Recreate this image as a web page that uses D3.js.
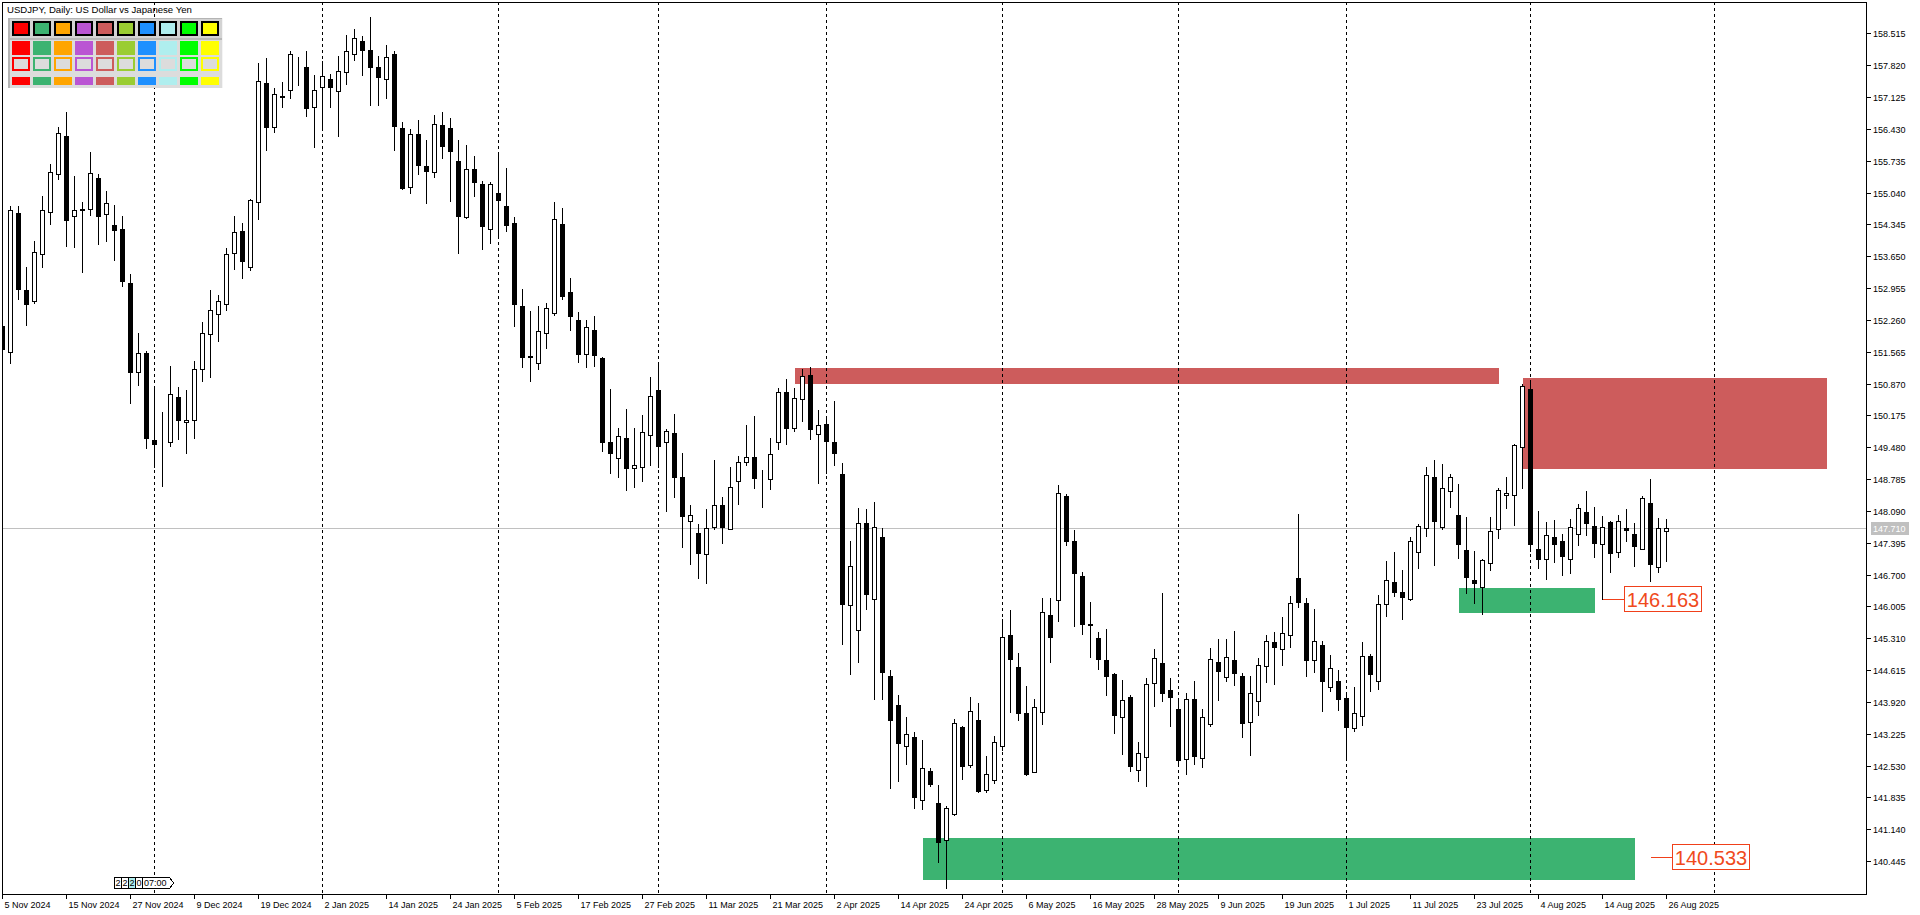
<!DOCTYPE html>
<html>
<head>
<meta charset="utf-8">
<script src="https://cdn.jsdelivr.net/npm/d3@7/dist/d3.min.js"></script>
<style>
  html, body { margin: 0; padding: 0; background: #fff; overflow: hidden; }
  svg { display: block; }
  text { font-family: "Liberation Sans", Arial, sans-serif; }
</style>
</head>
<body>
<div id="chart"></div>
<script>
// ---------------- data (daily candles, 5 Nov 2024 .. 26 Aug 2025) ----------------
const open = [152.127,151.553,154.594,152.913,152.673,153.706,154.623,155.452,156.276,154.522,
  154.688,154.675,155.359,154.566,154.332,154.245,153.066,151.116,151.544,149.631,
  149.573,149.588,150.570,150.024,150.068,151.182,151.946,152.383,152.601,153.714,
  154.201,153.422,154.828,157.433,156.466,157.121,157.273,157.907,157.782,156.902,
  157.339,157.520,157.252,157.666,158.059,158.343,158.153,157.782,157.514,158.066,
  156.444,155.155,156.319,155.621,155.496,156.516,156.450,155.730,154.500,155.548,
  155.228,154.252,155.031,154.741,154.369,152.564,151.466,151.313,151.968,152.417,
  154.354,152.863,152.258,151.509,152.040,151.428,149.588,149.238,149.675,149.027,
  149.042,149.741,150.730,149.588,149.784,148.824,147.869,147.607,147.142,147.732,
  148.212,147.701,148.736,149.151,149.260,148.797,148.780,149.588,150.679,149.893,
  150.527,151.051,149.762,149.981,149.594,148.896,146.029,145.483,147.819,146.160,
  147.520,144.485,143.845,142.950,143.153,141.771,142.411,141.706,140.898,141.465,
  143.372,142.535,143.518,141.996,142.208,142.950,145.374,144.675,143.671,142.396,
  143.706,145.811,146.138,148.415,147.426,146.662,145.614,145.308,144.835,144.529,
  143.583,144.027,142.426,142.723,144.326,144.762,144.179,143.758,142.666,143.976,
  142.688,143.444,144.784,144.457,144.835,144.485,143.470,143.933,144.697,145.221,
  145.068,145.374,146.618,146.072,144.841,145.155,144.252,144.369,143.998,143.356,
  143.605,144.915,144.369,146.051,146.531,146.313,146.166,147.186,147.710,148.824,
  147.745,148.531,147.994,147.230,146.588,146.422,146.946,147.688,148.430,148.430,
  149.479,150.745,147.252,147.033,147.527,147.426,147.033,147.579,148.059,147.754,
  147.361,147.841,147.199,147.710,147.586,147.265,148.256,146.865,147.651];
const high = [152.214,154.747,154.747,153.415,153.990,154.966,155.664,156.472,156.800,155.402,
  154.828,155.926,155.446,155.075,154.769,154.529,153.262,151.981,151.581,150.802,
  150.249,151.254,150.795,150.730,151.363,152.214,152.913,152.804,153.824,154.529,
  154.376,154.900,157.876,157.979,157.317,157.455,158.131,158.007,158.131,157.607,
  157.913,157.629,158.022,158.481,158.612,158.466,158.870,158.022,158.262,158.125,
  156.581,156.428,156.631,156.188,156.734,156.800,156.669,156.188,156.079,155.839,
  155.286,155.265,155.933,155.577,154.500,152.935,152.455,152.564,152.629,154.835,
  154.697,153.175,152.426,152.258,152.345,151.450,150.752,149.900,150.315,149.900,
  150.177,151.007,151.335,149.878,150.199,149.354,148.219,147.804,148.131,149.195,
  148.393,149.048,149.289,149.966,150.162,148.983,149.682,150.773,150.970,150.773,
  151.188,151.225,150.286,150.147,150.490,149.136,147.433,148.147,148.131,148.284,
  147.717,144.616,144.070,143.597,143.262,143.088,142.483,142.105,141.647,143.553,
  143.400,144.033,143.896,142.738,143.175,145.730,145.926,144.987,144.273,143.976,
  146.188,146.188,148.655,148.459,147.673,146.749,146.101,145.446,145.511,144.551,
  144.398,144.070,143.044,144.448,145.075,146.297,144.442,143.990,144.114,144.376,
  143.758,145.097,145.293,145.293,145.468,144.557,144.485,144.878,145.380,145.446,
  145.773,146.225,148.022,146.188,145.948,145.249,144.944,144.616,144.114,144.245,
  145.228,144.966,146.247,146.996,147.193,146.800,147.527,147.797,149.048,149.201,
  149.107,148.896,148.671,147.957,147.214,147.040,147.950,148.583,148.830,149.557,
  150.861,150.948,148.081,147.848,147.885,147.592,147.907,148.247,148.518,148.175,
  147.979,147.869,148.000,148.125,147.826,148.415,148.786,147.942,147.907];
const low = [151.559,151.313,152.710,152.155,152.636,153.422,154.361,155.343,153.874,153.859,
  153.313,154.557,153.924,153.990,153.575,153.007,150.452,150.845,149.470,149.055,
  148.640,149.514,149.660,149.361,149.688,150.920,151.020,151.806,152.470,153.365,
  153.182,153.350,154.470,155.976,156.369,156.909,157.112,157.396,156.719,156.042,
  156.479,156.909,156.282,157.417,157.942,157.614,156.959,156.959,157.112,155.976,
  155.125,155.024,155.446,154.806,155.387,155.789,154.863,153.728,154.485,154.972,
  153.815,153.946,154.042,154.208,152.134,151.238,150.933,151.195,151.653,152.374,
  152.723,152.046,151.348,151.238,151.254,149.404,148.924,148.837,148.553,148.618,
  148.749,149.099,149.055,148.094,148.400,147.308,146.937,146.631,146.522,147.700,
  147.396,147.690,148.247,149.099,148.597,148.182,148.575,149.442,149.557,149.841,
  150.059,149.666,148.706,148.924,149.103,145.177,144.536,144.797,145.955,143.976,
  143.990,142.046,142.199,142.570,141.610,141.588,142.090,140.431,139.850,141.444,
  142.243,142.505,141.946,141.952,142.142,142.869,143.706,143.518,142.330,142.383,
  143.430,144.797,145.686,147.345,145.583,145.409,144.900,144.645,144.070,143.247,
  142.789,142.418,142.199,142.090,143.837,143.946,143.400,142.527,142.352,142.570,
  142.505,143.400,143.968,144.376,144.289,143.160,142.771,143.640,144.361,144.317,
  144.719,145.112,145.998,144.492,144.579,143.728,144.158,143.749,142.645,143.291,
  143.422,144.164,144.208,145.802,146.238,145.736,146.138,146.850,147.542,146.915,
  147.695,148.182,147.068,146.304,146.086,145.839,146.806,147.505,148.160,147.789,
  148.597,147.221,146.850,146.610,146.968,146.690,146.728,147.345,147.570,147.077,
  146.163,146.749,147.077,147.433,146.880,147.258,146.566,146.756,146.990];
const close = [151.618,154.653,152.942,152.614,153.736,154.653,155.483,156.335,154.448,154.653,
  154.666,155.461,154.535,154.813,154.230,153.116,151.129,151.538,149.688,149.557,
  149.566,150.636,150.081,150.068,151.182,151.968,152.470,152.666,153.693,154.173,
  153.553,154.872,157.470,156.479,157.186,157.155,158.066,157.920,156.893,157.273,
  157.579,157.352,157.688,158.125,158.409,158.160,157.789,157.570,157.994,156.500,
  155.147,156.313,155.636,155.518,156.538,156.057,155.948,154.535,155.548,155.278,
  154.317,155.228,154.885,154.339,152.614,151.457,151.450,152.011,152.514,154.457,
  152.789,152.352,151.522,152.099,151.500,149.601,149.348,149.719,149.020,149.099,
  149.806,150.592,149.500,149.828,148.824,147.972,148.007,147.164,147.710,148.212,
  147.745,148.605,149.151,149.260,148.802,148.789,149.326,150.679,149.893,150.548,
  151.042,149.872,149.972,149.623,149.365,146.051,146.887,147.819,146.269,147.732,
  144.579,143.531,143.029,143.212,141.850,142.470,142.134,140.854,141.597,143.452,
  142.527,143.714,141.968,142.339,143.038,145.330,144.850,143.684,142.345,143.802,
  145.876,145.343,148.474,147.439,146.741,145.627,145.601,144.850,144.492,143.640,
  143.955,142.527,142.797,144.304,144.872,144.121,144.033,142.645,143.976,142.745,
  143.583,144.850,144.601,144.893,144.557,143.466,144.110,144.719,145.243,145.125,
  145.417,146.072,146.107,144.841,145.243,144.382,144.653,143.990,143.378,143.671,
  144.915,144.522,146.051,146.575,146.326,146.217,147.426,147.754,148.867,147.876,
  148.583,148.824,147.361,146.653,146.509,147.011,147.645,148.540,148.474,149.522,
  150.811,147.361,147.046,147.557,147.361,147.112,147.732,148.147,147.832,147.383,
  147.732,147.164,147.863,147.666,147.330,148.365,146.937,147.710,147.710];

// time axis labels, one every 8 bars starting at bar 0
const timeLabels = ["5 Nov 2024","15 Nov 2024","27 Nov 2024","9 Dec 2024","19 Dec 2024","2 Jan 2025",
  "14 Jan 2025","24 Jan 2025","5 Feb 2025","17 Feb 2025","27 Feb 2025","11 Mar 2025","21 Mar 2025",
  "2 Apr 2025","14 Apr 2025","24 Apr 2025","6 May 2025","16 May 2025","28 May 2025","9 Jun 2025",
  "19 Jun 2025","1 Jul 2025","11 Jul 2025","23 Jul 2025","4 Aug 2025","14 Aug 2025","26 Aug 2025"];
const labelEvery = 8;

// right price scale
const priceTicks = [158.515,157.820,157.125,156.430,155.735,155.040,154.345,153.650,152.955,152.260,
  151.565,150.870,150.175,149.480,148.785,148.090,147.395,146.700,146.005,145.310,144.615,143.920,
  143.225,142.530,141.835,141.140,140.445];
const bidPrice = 147.710;

// first bar of each month (period separators)
const monthStarts = [19, 40, 62, 82, 103, 125, 147, 168, 191, 214];

// supply / demand zones
const zoneFrom   = [99, 190, 182, 115];
const zoneTo     = [187, 228, 199, 204];
const zoneTop    = [151.210, 150.992, 146.407, 140.955];
const zoneBottom = [150.867, 149.005, 145.867, 140.031];
const zoneKind   = ["supply", "supply", "demand", "demand"];

// price labels
const markBar   = [200, 206];
const markPrice = [146.163, 140.533];

// colour palette panel (top left)
const paletteColors = ["#FF0000","#3CB371","#FFA500","#BA55D3","#CD5C5C","#9ACD32","#1E90FF","#AFEEEE","#00FF00","#FFFF00"];

// ---------------- drawing ----------------
const width = 1920, height = 915;
const plotLeft = 2, plotRight = 1866, plotTop = 2, plotBottom = 894;

const svg = d3.select('#chart').append('svg')
  .attr('width', width)
  .attr('height', height)
  .attr('shape-rendering', 'crispEdges');

// bar index -> x (8px per bar), price -> y
const x = d3.scaleLinear().domain([0, 1]).range([2.5, 10.5]);
const y = d3.scaleLinear().domain([159.245, 140]).range([0, 881.42]);
const py = p => Math.round(y(p));

svg.append('defs').append('clipPath').attr('id', 'plot')
  .append('rect')
  .attr('x', plotLeft + 1).attr('y', plotTop + 1)
  .attr('width', plotRight - plotLeft - 1).attr('height', plotBottom - plotTop - 1);

const plot = svg.append('g').attr('clip-path', 'url(#plot)');

// zones
const zoneColor = { supply: '#CD5C5C', demand: '#3CB371' };
plot.append('g').selectAll('rect')
  .data(zoneFrom.map((f, i) => i))
  .join('rect')
  .attr('x', i => Math.round(x(zoneFrom[i])))
  .attr('y', i => py(zoneTop[i]))
  .attr('width', i => Math.round(x(zoneTo[i])) - Math.round(x(zoneFrom[i])))
  .attr('height', i => py(zoneBottom[i]) - py(zoneTop[i]))
  .attr('fill', i => zoneColor[zoneKind[i]]);

// palette panel
const pal = svg.append('g');
pal.append('rect').attr('x', 8).attr('y', 18).attr('width', 215).attr('height', 70).attr('fill', '#DCDCDC');
pal.append('rect').attr('x', 8).attr('y', 18).attr('width', 215).attr('height', 21).attr('fill', '#D3D3D3');
pal.append('rect').attr('x', 8).attr('y', 18).attr('width', 2).attr('height', 70).attr('fill', '#B4B4B4');
pal.append('rect').attr('x', 8).attr('y', 18).attr('width', 215).attr('height', 1).attr('fill', '#B4B4B4');
pal.append('rect').attr('x', 10).attr('y', 38).attr('width', 213).attr('height', 2).attr('fill', '#B8B8B8');
pal.append('rect').attr('x', 222).attr('y', 18).attr('width', 1).attr('height', 70).attr('fill', '#F4F4F4');
paletteColors.forEach((c, k) => {
  const px = 12 + 21 * k;
  pal.append('rect').attr('x', px + 1).attr('y', 22).attr('width', 16).attr('height', 13)
    .attr('fill', c).attr('stroke', '#000').attr('stroke-width', 2);
  pal.append('rect').attr('x', px).attr('y', 41).attr('width', 18).attr('height', 14).attr('fill', c);
  pal.append('rect').attr('x', px + 1).attr('y', 58).attr('width', 16).attr('height', 12)
    .attr('fill', '#DCDCDC').attr('stroke', c).attr('stroke-width', 2);
  pal.append('rect').attr('x', px).attr('y', 77).attr('width', 18).attr('height', 8).attr('fill', c);
});

// title
svg.append('text').attr('x', 7).attr('y', 13)
  .attr('font-size', 9.6).attr('fill', '#000')
  .text('USDJPY, Daily:  US Dollar vs Japanese Yen');

// period separators
plot.append('g').selectAll('line')
  .data(monthStarts)
  .join('line')
  .attr('x1', d => x(d)).attr('x2', d => x(d))
  .attr('y1', plotTop).attr('y2', plotBottom)
  .attr('stroke', '#000').attr('stroke-width', 1)
  .attr('stroke-dasharray', '3,3');

// bid line
plot.append('line')
  .attr('x1', plotLeft).attr('x2', plotRight)
  .attr('y1', py(bidPrice) + 0.5).attr('y2', py(bidPrice) + 0.5)
  .attr('stroke', '#C0C0C0');

// candles
const idx = d3.range(open.length);
const candles = plot.append('g').selectAll('g').data(idx).join('g');
candles.append('rect')
  .attr('x', i => x(i) - 0.5)
  .attr('y', i => py(high[i]))
  .attr('width', 1)
  .attr('height', i => py(low[i]) - py(high[i]) + 1)
  .attr('fill', '#000');
candles.append('rect')
  .attr('x', i => x(i) - 2)
  .attr('y', i => py(Math.max(open[i], close[i])) + 0.5)
  .attr('width', 4)
  .attr('height', i => py(Math.min(open[i], close[i])) - py(Math.max(open[i], close[i])))
  .attr('fill', i => close[i] >= open[i] ? '#fff' : '#000')
  .attr('stroke', '#000')
  .attr('stroke-width', 1);

// price labels with connector
const marks = plot.append('g').selectAll('g').data(markBar.map((b, i) => i)).join('g')
  .attr('transform', i => `translate(${x(markBar[i])},${py(markPrice[i]) + 0.5})`);
marks.append('line').attr('x1', 0).attr('x2', 22).attr('y1', 0).attr('y2', 0)
  .attr('stroke', '#F0401A').attr('stroke-width', 1);
marks.append('rect').attr('x', 22).attr('y', -13).attr('width', 77).attr('height', 25)
  .attr('fill', '#fff').attr('stroke', '#F0401A').attr('stroke-width', 1.2);
marks.append('text').attr('x', 60.5).attr('y', 0).attr('dy', '0.36em')
  .attr('text-anchor', 'middle')
  .attr('font-size', 20).attr('fill', '#F04A1C')
  .attr('shape-rendering', 'auto')
  .text(i => markPrice[i].toFixed(3));

// frame
svg.append('rect')
  .attr('x', plotLeft + 0.5).attr('y', plotTop + 0.5)
  .attr('width', plotRight - plotLeft).attr('height', plotBottom - plotTop)
  .attr('fill', 'none').attr('stroke', '#000');

// price axis
const pAxis = svg.append('g');
pAxis.selectAll('line').data(priceTicks).join('line')
  .attr('x1', plotRight).attr('x2', plotRight + 5)
  .attr('y1', d => py(d) + 0.5).attr('y2', d => py(d) + 0.5)
  .attr('stroke', '#000');
pAxis.selectAll('text').data(priceTicks).join('text')
  .attr('x', plotRight + 7).attr('y', d => py(d) + 0.5).attr('dy', '0.35em')
  .attr('font-size', 9).attr('fill', '#000')
  .text(d => d.toFixed(3));
pAxis.append('rect')
  .attr('x', plotRight + 5).attr('y', py(bidPrice) - 6).attr('width', 38).attr('height', 13)
  .attr('fill', '#C0C0C0');
pAxis.append('text')
  .attr('x', plotRight + 7).attr('y', py(bidPrice) + 0.5).attr('dy', '0.35em')
  .attr('font-size', 9).attr('fill', '#fff')
  .text(bidPrice.toFixed(3));

// time axis
const tAxis = svg.append('g');
const tickBars = timeLabels.map((t, k) => k * labelEvery);
tAxis.selectAll('line').data(tickBars).join('line')
  .attr('x1', d => x(d)).attr('x2', d => x(d))
  .attr('y1', plotBottom).attr('y2', plotBottom + 5)
  .attr('stroke', '#000');
tAxis.selectAll('text').data(tickBars).join('text')
  .attr('x', d => x(d) + 2).attr('y', 908)
  .attr('font-size', 9).attr('fill', '#000')
  .text((d, k) => timeLabels[k]);

// small counter widget bottom-left
const cells = ['2', '2', '2', '0'];
const wid = svg.append('g').attr('transform', 'translate(114,877)');
cells.forEach((c, k) => {
  wid.append('rect').attr('x', k * 7 + 0.5).attr('y', 0.5).attr('width', 7).attr('height', 11)
    .attr('fill', k === 2 ? '#AFEEEE' : '#fff').attr('stroke', '#000');
  wid.append('text').attr('x', k * 7 + 4).attr('y', 9).attr('text-anchor', 'middle')
    .attr('font-size', 9).text(c);
});
wid.append('path').attr('d', 'M28.5,0.5H55.5L59.5,6L55.5,11.5H28.5Z').attr('fill', '#fff').attr('stroke', '#000');
wid.append('text').attr('x', 30).attr('y', 9).attr('font-size', 9).text('07:00');
</script>
</body>
</html>
